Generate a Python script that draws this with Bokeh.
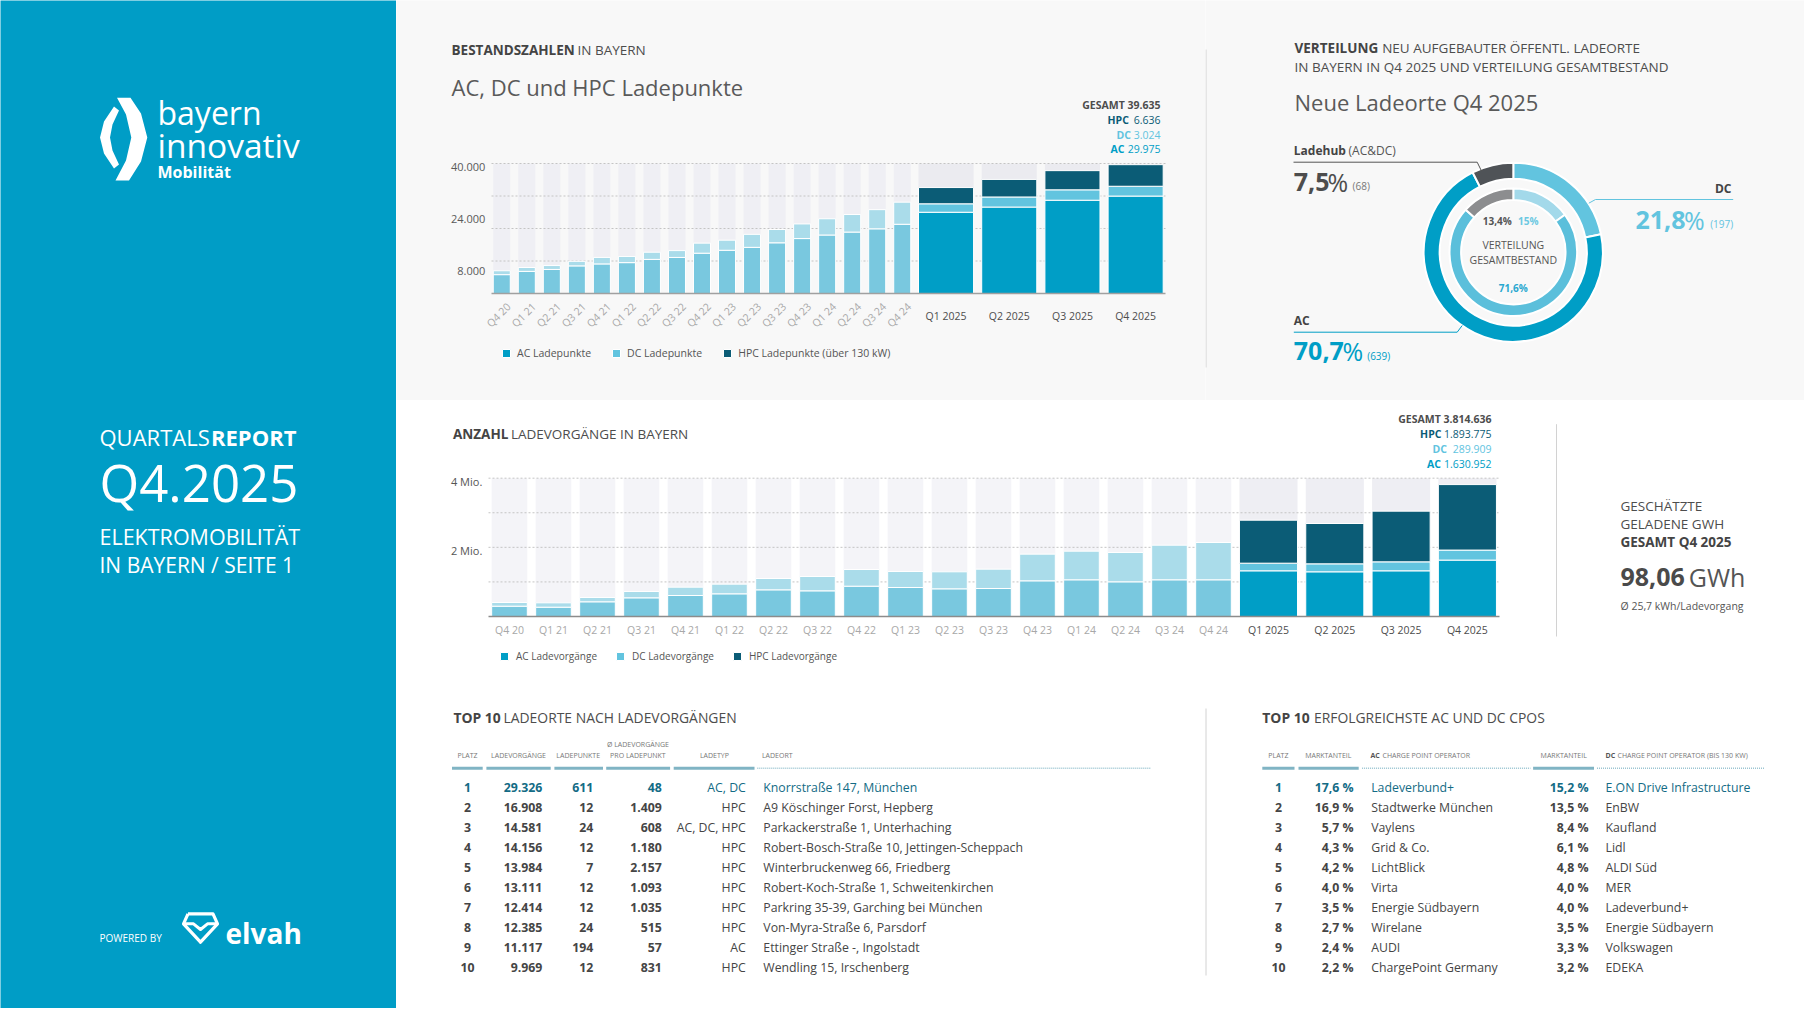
import math
from bokeh.plotting import figure
from bokeh.models import Range1d, Legend, LegendItem
from bokeh.layouts import row, column
from bokeh.core.properties import value
from bokeh.embed import file_html
from bokeh.resources import INLINE

FONT = "Open Sans"

# ------------------------------------------------------------------ data
quarters_hist = ["Q4 20", "Q1 21", "Q2 21", "Q3 21", "Q4 21", "Q1 22", "Q2 22", "Q3 22",
                 "Q4 22", "Q1 23", "Q2 23", "Q3 23", "Q4 23", "Q1 24", "Q2 24", "Q3 24", "Q4 24"]
quarters_new = ["Q1 2025", "Q2 2025", "Q3 2025", "Q4 2025"]

# Ladepunkte (Bestand)
lp_ac_hist = [5800, 6800, 7400, 8500, 9100, 9500, 10500, 11100, 12400, 13300, 14200, 15600,
              16900, 18000, 18900, 19900, 21300]
lp_dc_hist = [1200, 1200, 1200, 1400, 2000, 1900, 2200, 2100, 3100, 3100, 4000, 4100,
              4500, 5000, 5400, 5900, 6800]
lp_ac_new = [25000, 26600, 28700, 29975]
lp_dc_new = [2600, 3100, 3200, 3024]
lp_hpc_new = [5000, 5400, 5900, 6636]
lp_ticks = [8000, 24000, 40000]
lp_grid = [10000, 20000, 30000, 40000]
lp_legend = ["AC Ladepunkte", "DC Ladepunkte", "HPC Ladepunkte (über 130 kW)"]

# Ladevorgaenge
lv_ac_hist = [298000, 269000, 425000, 540000, 607000, 656000, 771000, 742000, 877000, 839000,
              800000, 810000, 1032000, 1061000, 1003000, 1061000, 1061000]
lv_dc_hist = [107000, 126000, 125000, 183000, 241000, 279000, 328000, 415000, 482000, 462000,
              492000, 559000, 771000, 828000, 848000, 1001000, 1079000]
lv_ac_new = [1321000, 1292000, 1321000, 1630952]
lv_dc_new = [221000, 231000, 260000, 289909]
lv_hpc_new = [1243000, 1166000, 1465000, 1893775]
lv_ticks = [2000000, 4000000]
lv_tick_labels = ["2 Mio.", "4 Mio."]
lv_grid = [1000000, 2000000, 3000000, 4000000]
lv_legend = ["AC Ladevorgänge", "DC Ladevorgänge", "HPC Ladevorgänge"]

# Donut: neue Ladeorte Q4 2025 (outer) and Gesamtbestand (inner), clockwise from top
neu_share = [21.8, 70.7, 7.5]      # DC, AC, Ladehub
neu_count = [197, 639, 68]
bestand_share = [15.0, 71.6, 13.4]  # DC, AC, Ladehub

gwh_total = 98.06
kwh_per_session = 25.7

top_platz = list(range(1, 11))
top_vorgaenge = [29326, 16908, 14581, 14156, 13984, 13111, 12414, 12385, 11117, 9969]
top_punkte = [611, 12, 24, 12, 7, 12, 12, 24, 194, 12]
top_pro_punkt = [48, 1409, 608, 1180, 2157, 1093, 1035, 515, 57, 831]
top_typ = ["AC, DC", "HPC", "AC, DC, HPC", "HPC", "HPC", "HPC", "HPC", "HPC", "AC", "HPC"]
top_ort = ["Knorrstraße 147, München", "A9 Köschinger Forst, Hepberg",
           "Parkackerstraße 1, Unterhaching", "Robert-Bosch-Straße 10, Jettingen-Scheppach",
           "Winterbruckenweg 66, Friedberg", "Robert-Koch-Straße 1, Schweitenkirchen",
           "Parkring 35-39, Garching bei München", "Von-Myra-Straße 6, Parsdorf",
           "Ettinger Straße -, Ingolstadt", "Wendling 15, Irschenberg"]

cpo_ac_share = [17.6, 16.9, 5.7, 4.3, 4.2, 4.0, 3.5, 2.7, 2.4, 2.2]
cpo_ac_name = ["Ladeverbund+", "Stadtwerke München", "Vaylens", "Grid & Co.", "LichtBlick",
               "Virta", "Energie Südbayern", "Wirelane", "AUDI", "ChargePoint Germany"]
cpo_dc_share = [15.2, 13.5, 8.4, 6.1, 4.8, 4.0, 4.0, 3.5, 3.3, 3.2]
cpo_dc_name = ["E.ON Drive Infrastructure", "EnBW", "Kaufland", "Lidl", "ALDI Süd", "MER",
               "Ladeverbund+", "Energie Südbayern", "Volkswagen", "EDEKA"]

# ------------------------------------------------------------------ styles
BG_TOP = "#f8f8f8"
BLUE_PANEL = "#009dc6"
C_AC, C_DC, C_HPC = "#009ec6", "#62c4df", "#0b5c76"
C_AC_OLD, C_DC_OLD = "#79c8df", "#aadcea"
C_TEAL = "#136b85"
C_ROW = "#454545"
C_GRID = "#c4c4c4"
BASE_K = 0.0   # rendered cap centre lands on the given y with this offset


def de(n):
    return f"{n:,}".replace(",", ".")


def pct1(v):
    return f"{v:.1f}".replace(".", ",")


def pctg(v):
    return f"{v:g}".replace(".", ",") + "%"


def ID(v):
    return v


def make_fig(x0, x1, y0, y1, fx, fy, bg):
    """Figure whose frame is the whole canvas; fx/fy map page pixels to data."""
    p = figure(width=round(x1 - x0), height=round(y1 - y0),
               x_range=Range1d(fx(x0), fx(x1)), y_range=Range1d(fy(y1), fy(y0)),
               toolbar_location=None, output_backend="svg", min_border=0,
               x_axis_location=None, y_axis_location=None,
               background_fill_color=bg, border_fill_color=bg, outline_line_color=None)
    p.grid.visible = False
    return p


def put(p, fx, fy, xs, ys, texts, size, color, bold=False, align="left", xdata=False,
        angle=0.0, baseline=None):
    if not isinstance(texts, list):
        xs, ys, texts = [xs], [ys], [texts]
    xd = list(xs) if xdata else [fx(x) for x in xs]
    if baseline is None:
        yd = [fy(y + BASE_K * size) for y in ys]
        bl = "alphabetic"
    else:
        yd = [fy(y) for y in ys]
        bl = baseline
    p.text(x=xd, y=yd, text=texts, angle=angle, text_font=value(FONT),
           text_font_size=value(f"{size}px"), text_font_style="bold" if bold else "normal",
           text_color=color, text_align=align, text_baseline=bl)


def legend_for(p, renderers, labels, loc, size, standoff, spacing):
    leg = Legend(items=[LegendItem(label=l, renderers=[r]) for l, r in zip(labels, renderers)],
                 orientation="horizontal", location=loc, glyph_width=10, glyph_height=10,
                 label_height=10, label_standoff=standoff, spacing=spacing, padding=0, margin=0,
                 border_line_color=None, background_fill_alpha=0, label_text_font=FONT,
                 label_text_font_size=size, label_text_color="#555555")
    p.add_layout(leg)


def stacked(p, xs, width, layers, colors):
    rs = []
    bottom = [0] * len(xs)
    for vals, col in zip(layers, colors):
        top = [b + v for b, v in zip(bottom, vals)]
        rs.append(p.vbar(x=xs, width=width, bottom=bottom, top=top, fill_color=col,
                         line_color="white", line_width=1))
        bottom = top
    return rs


# ================================================================== left panel
pl = make_fig(0, 396, 0, 1008, ID, ID, BLUE_PANEL)
# bayern innovativ mark: left chevron-lens + broad right crescent
pl.patch([113.5, 118.5, 112, 109.5, 112, 118.5, 113.5, 103.5, 99.5, 103.5],
         [106, 110, 124, 137, 150, 164, 168, 153, 137, 121],
         fill_color="white", line_color=None)
pl.patch([116.5, 130, 140.5, 146.8, 140.5, 128.5, 115, 125.5, 130.8, 125.5],
         [97.3, 97.3, 113, 137, 161, 180, 180, 160, 137, 114],
         fill_color="white", line_color=None)
put(pl, ID, ID, 157, 112, "bayern", 32, "white")
put(pl, ID, ID, 157, 144, "innovativ", 33.5, "white")
put(pl, ID, ID, 157, 171.5, "Mobilität", 16, "white", bold=True)
put(pl, ID, ID, 99, 436.6, "QUARTALS", 22, "white")
put(pl, ID, ID, 210.5, 436.6, "REPORT", 22, "white", bold=True)
put(pl, ID, ID, 99, 481.7, "Q4.2025", 51, "white")
put(pl, ID, ID, 99, 535.6, "ELEKTROMOBILITÄT", 21.5, "white")
put(pl, ID, ID, 99, 564.3, "IN BAYERN / SEITE 1", 21, "white")
put(pl, ID, ID, 99, 937.3, "POWERED BY", 10, "white")
# elvah gem mark
pl.line([187.5, 212.5, 217, 200, 183, 187.5], [913.3, 913.3, 923.3, 941.7, 923.3, 913.3],
        line_color="white", line_width=3.2, line_join="round")
pl.line([183.5, 193, 200, 207, 216.5], [923.3, 923.3, 929, 923.3, 923.3],
        line_color="white", line_width=3, line_join="round")
put(pl, ID, ID, 225, 932, "elvah", 28, "white", bold=True)

# ================================================================== top chart (Ladepunkte)
T_L, T_R, T_B = 491, 1165, 293           # plot area (page px)
T_UNIT, T_X0 = 25.03, -0.41
T_VPP = 40000 / 130.0


def tx(px):
    return T_X0 + (px - T_L) / T_UNIT


def ty(py):
    return (T_B - py) * T_VPP


pt = make_fig(396, 1205, 0, 400, tx, ty, BG_TOP)
hx = list(range(len(quarters_hist)))
nx = [len(quarters_hist) + 0.75 + 2.525 * j for j in range(len(quarters_new))]
pt.vbar(x=hx, width=0.68, bottom=0, top=[max(lp_ticks)] * len(hx), fill_color="#efeff4",
        line_color=None, level="image")
pt.vbar(x=nx, width=2.2, bottom=0, top=[max(lp_ticks)] * len(nx), fill_color="#ebebf0",
        line_color=None, level="image")
pt.segment(x0=tx(T_L), x1=tx(T_R), y0=lp_grid, y1=lp_grid, line_color=C_GRID, line_dash="2 2",
           line_width=1, level="underlay")
stacked(pt, hx, 0.68, [lp_ac_hist, lp_dc_hist], [C_AC_OLD, C_DC_OLD])
r_top = stacked(pt, nx, 2.2, [lp_ac_new, lp_dc_new, lp_hpc_new], [C_AC, C_DC, C_HPC])
pt.segment(x0=tx(T_L), x1=tx(T_R), y0=0, y1=0, line_color="#a0a0a0", line_width=1.5)

# axis labels
put(pt, tx, ty, [484.8] * len(lp_ticks), [T_B - v / T_VPP + 3.5 for v in lp_ticks],
    [de(v) for v in lp_ticks], 11, "#5a5a5a", align="right")
put(pt, tx, ty, [x + 0.28 for x in hx], [304.3] * len(hx), quarters_hist, 10.5, "#a8a8a8",
    align="right", xdata=True, angle=math.pi / 4, baseline="middle")
put(pt, tx, ty, nx, [315] * len(nx), quarters_new, 10.5, "#4d4d4d", align="center", xdata=True)

# titles
put(pt, tx, ty, 451, 49, "BESTANDSZAHLEN", 13.5, "#444444", bold=True)
put(pt, tx, ty, 577, 49, "IN BAYERN", 13.5, "#4d4d4d")
put(pt, tx, ty, 451, 86.5, "AC, DC und HPC Ladepunkte", 22, "#5a5a5a")

lp_total = lp_ac_new[-1] + lp_dc_new[-1] + lp_hpc_new[-1]
put(pt, tx, ty, 1160, 104.3, "GESAMT " + de(lp_total), 10.5, "#4d4d4d", bold=True, align="right")
put(pt, tx, ty, 1107, 119.3, "HPC", 10.5, C_HPC, bold=True)
put(pt, tx, ty, 1160, 119.3, de(lp_hpc_new[-1]), 10.5, C_HPC, align="right")
put(pt, tx, ty, 1116, 134.3, "DC", 10.5, C_DC, bold=True)
put(pt, tx, ty, 1160, 134.3, de(lp_dc_new[-1]), 10.5, C_DC, align="right")
put(pt, tx, ty, 1110, 148.3, "AC", 10.5, C_AC, bold=True)
put(pt, tx, ty, 1160, 148.3, de(lp_ac_new[-1]), 10.5, C_AC, align="right")

legend_for(pt, r_top, lp_legend, (105, 40), "10.5px", 6, 20)

# ================================================================== donut panel
pd = make_fig(1205, 1804, 0, 400, ID, ID, BG_TOP)
pd.line([1205.5, 1205.5], [49, 367], line_color="#d2d2d2", line_width=1)


def ring_angles(shares):
    tot = float(sum(shares))
    s_, e_, c = [], [], 0.0
    for s in shares:
        f0 = c / tot
        c += s
        f1 = c / tot
        s_.append(math.pi / 2 - 2 * math.pi * f1)
        e_.append(math.pi / 2 - 2 * math.pi * f0)
    return s_, e_


CX, CY = 1512.8, 251.7
so, eo = ring_angles(neu_share)
pd.annular_wedge(x=CX, y=CY, inner_radius=73.5, outer_radius=89.5, start_angle=so, end_angle=eo,
                 fill_color=[C_DC, C_AC, "#4f5357"], line_color="white", line_width=2)
si, ei = ring_angles(bestand_share)
pd.annular_wedge(x=CX, y=CY, inner_radius=52.2, outer_radius=63.8, start_angle=si, end_angle=ei,
                 fill_color=["#a3d9ea", "#5bbfdb", "#8c8d8f"], line_color="white", line_width=2)

put(pd, ID, ID, 1294, 47.7, "VERTEILUNG", 13.5, "#444444", bold=True)
put(pd, ID, ID, 1381.7, 47.7, "NEU AUFGEBAUTER ÖFFENTL. LADEORTE", 13.5, "#4d4d4d")
put(pd, ID, ID, 1294, 66, "IN BAYERN IN Q4 2025 UND VERTEILUNG GESAMTBESTAND", 13.5, "#4d4d4d")
put(pd, ID, ID, 1294, 101.7, "Neue Ladeorte Q4 2025", 22, "#5a5a5a")

# centre of the donut
put(pd, ID, ID, 1496.7, 220.7, pctg(bestand_share[2]), 10, "#555555", bold=True, align="center")
put(pd, ID, ID, 1527.7, 220.7, pctg(bestand_share[0]), 10, "#6cc8e2", bold=True, align="center")
put(pd, ID, ID, 1512.8, 244, "VERTEILUNG", 10.5, "#555555", align="center")
put(pd, ID, ID, 1512.8, 259, "GESAMTBESTAND", 10.5, "#555555", align="center")
put(pd, ID, ID, 1512.8, 287.3, pctg(bestand_share[1]), 10, "#2aa8d0", bold=True, align="center")

# Ladehub
pd.line([1293, 1476.7, 1481], [161.7, 161.7, 170.5], line_color="#555555", line_width=1)
put(pd, ID, ID, 1293.3, 150, "Ladehub", 12, "#444444", bold=True)
put(pd, ID, ID, 1348, 150, "(AC&DC)", 12, "#555555")
put(pd, ID, ID, 1293.3, 181.7, pct1(neu_share[2]), 25, "#4d4d4d", bold=True)
put(pd, ID, ID, 1327, 181.7, "%", 25, "#4d4d4d")
put(pd, ID, ID, 1352, 185.7, f"({neu_count[2]})", 10, "#777777")

# DC
pd.line([1588.3, 1595, 1732.7], [202.7, 199, 199], line_color=C_DC, line_width=1)
put(pd, ID, ID, 1731, 188.3, "DC", 12, "#444444", bold=True, align="right")
put(pd, ID, ID, 1635, 219.3, pct1(neu_share[0]), 25, C_DC, bold=True)
put(pd, ID, ID, 1683.5, 219.3, "%", 25, C_DC)
put(pd, ID, ID, 1732.7, 223, f"({neu_count[0]})", 10, C_DC, align="right")

# AC
pd.line([1293.3, 1456.7, 1461.7], [331.7, 331.7, 325], line_color=C_AC, line_width=1)
put(pd, ID, ID, 1293.3, 320, "AC", 12, "#444444", bold=True)
put(pd, ID, ID, 1293.3, 350.7, pct1(neu_share[1]), 25, C_AC, bold=True)
put(pd, ID, ID, 1342, 350.7, "%", 25, C_AC)
put(pd, ID, ID, 1366.7, 355, f"({neu_count[1]})", 10, C_AC)

# ================================================================== bottom chart (Ladevorgaenge)
B_L, B_R, B_B = 488, 1499, 616
B_UNIT, B_X0 = 44.0, -0.477
B_VPP = 1e6 / 34.58


def bx(px):
    return B_X0 + (px - B_L) / B_UNIT


def by(py):
    return (B_B - py) * B_VPP


pb = make_fig(396, 1555, 400, 690, bx, by, "white")
bhx = list(range(len(quarters_hist)))
bnx = [len(quarters_hist) + 0.25 + 1.507 * j for j in range(len(quarters_new))]
pb.vbar(x=bhx, width=0.81, bottom=0, top=[max(lv_ticks)] * len(bhx), fill_color="#f4f4f8",
        line_color=None, level="image")
pb.vbar(x=bnx, width=1.32, bottom=0, top=[max(lv_ticks)] * len(bnx), fill_color="#eeeef3",
        line_color=None, level="image")
pb.segment(x0=bx(B_L), x1=bx(B_R), y0=lv_grid, y1=lv_grid, line_color=C_GRID, line_dash="2 2",
           line_width=1, level="underlay")
stacked(pb, bhx, 0.81, [lv_ac_hist, lv_dc_hist], [C_AC_OLD, C_DC_OLD])
r_bot = stacked(pb, bnx, 1.32, [lv_ac_new, lv_dc_new, lv_hpc_new], [C_AC, C_DC, C_HPC])
pb.segment(x0=bx(B_L), x1=bx(B_R), y0=0, y1=0, line_color="#8c8c8c", line_width=1.5)

put(pb, bx, by, [481.8] * len(lv_ticks), [B_B - v / B_VPP + 3 for v in lv_ticks],
    lv_tick_labels, 11, "#555555", align="right")
put(pb, bx, by, bhx, [629.3] * len(bhx), quarters_hist, 10.5, "#a8a8a8", align="center", xdata=True)
put(pb, bx, by, bnx, [629.3] * len(bnx), quarters_new, 10.5, "#4d4d4d", align="center", xdata=True)

put(pb, bx, by, 452.5, 433.3, "ANZAHL", 13.5, "#444444", bold=True)
put(pb, bx, by, 510.4, 433.3, "LADEVORGÄNGE IN BAYERN", 13.5, "#4d4d4d")

lv_total = lv_ac_new[-1] + lv_dc_new[-1] + lv_hpc_new[-1]
put(pb, bx, by, 1491, 418.3, "GESAMT " + de(lv_total), 10.5, "#4d4d4d", bold=True, align="right")
put(pb, bx, by, 1419.6, 433.3, "HPC", 10.5, C_HPC, bold=True)
put(pb, bx, by, 1491, 433.3, de(lv_hpc_new[-1]), 10.5, C_HPC, align="right")
put(pb, bx, by, 1432, 448.3, "DC", 10.5, C_DC, bold=True)
put(pb, bx, by, 1491, 448.3, de(lv_dc_new[-1]), 10.5, C_DC, align="right")
put(pb, bx, by, 1426.4, 463.3, "AC", 10.5, C_AC, bold=True)
put(pb, bx, by, 1491, 463.3, de(lv_ac_new[-1]), 10.5, C_AC, align="right")

legend_for(pb, r_bot, lv_legend, (103, 27), "10px", 7, 18)

# ================================================================== GWh panel
pg = make_fig(1555, 1804, 400, 690, ID, ID, "white")
pg.line([1556, 1556], [423.7, 636], line_color="#d2d2d2", line_width=1)
put(pg, ID, ID, 1620, 505, "GESCHÄTZTE", 13.5, "#4d4d4d")
put(pg, ID, ID, 1620, 523.3, "GELADENE GWH", 13.5, "#4d4d4d")
put(pg, ID, ID, 1620, 541.7, "GESAMT Q4 2025", 13.5, "#444444", bold=True)
put(pg, ID, ID, 1620, 576.7, f"{gwh_total:.2f}".replace(".", ","), 25, "#4a4a4a", bold=True)
put(pg, ID, ID, 1688.3, 576.7, "GWh", 25, "#555555")
put(pg, ID, ID, 1620, 605, "Ø " + f"{kwh_per_session:.1f}".replace(".", ",") + " kWh/Ladevorgang",
    10.5, "#555555")

# ================================================================== tables
ptab = make_fig(396, 1804, 690, 1008, ID, ID, "white")
ptab.line([1205.5, 1205.5], [708, 975], line_color="#d2d2d2", line_width=1)

put(ptab, ID, ID, 452.9, 716.7, "TOP 10", 13.9, "#444444", bold=True)
put(ptab, ID, ID, 503, 716.7, "LADEORTE NACH LADEVORGÄNGEN", 13.9, "#4d4d4d")
put(ptab, ID, ID, 1261.8, 716.7, "TOP 10", 13.9, "#444444", bold=True)
put(ptab, ID, ID, 1313.5, 716.7, "ERFOLGREICHSTE AC UND DC CPOS", 13.9, "#4d4d4d")

HC = "#777777"
put(ptab, ID, ID, [467, 518, 577.7, 713.9], [755] * 4,
    ["PLATZ", "LADEVORGÄNGE", "LADEPUNKTE", "LADETYP"], 7, HC, align="center")
put(ptab, ID, ID, [637.4, 637.4], [744.3, 755], ["Ø LADEVORGÄNGE", "PRO LADEPUNKT"], 7, HC,
    align="center")
put(ptab, ID, ID, 761.4, 755, "LADEORT", 7, HC)
put(ptab, ID, ID, [1277.9, 1327.8, 1563.2], [755] * 3, ["PLATZ", "MARKTANTEIL", "MARKTANTEIL"],
    7, HC, align="center")
put(ptab, ID, ID, [1370, 1605], [755, 755], ["AC", "DC"], 7, "#555555", bold=True)
put(ptab, ID, ID, [1382, 1617], [755, 755],
    ["CHARGE POINT OPERATOR", "CHARGE POINT OPERATOR (BIS 130 KW)"], 7, HC)

U_Y = 767.7
for a, b in [(451.5, 482.2), (485.9, 550.2), (553.9, 602.5), (605.7, 669.6), (673.2, 754),
             (1261.8, 1294), (1298, 1358.2), (1532.6, 1593.5)]:
    ptab.line([a, b], [U_Y, U_Y], line_color="#80b4c4", line_width=3)
for a, b in [(756.8, 1150.7), (1361.6, 1530), (1596.5, 1764.5)]:
    ptab.line([a, b], [U_Y, U_Y], line_color="#9cc5d2", line_width=1.5, line_dash="1 1")

rows_y = [787 + 20 * i for i in range(len(top_platz))]
row_cols = [C_TEAL] + [C_ROW] * (len(top_platz) - 1)
n = len(rows_y)
FS = 12.3
put(ptab, ID, ID, [467] * n, rows_y, [str(v) for v in top_platz], FS, row_cols, bold=True,
    align="center")
put(ptab, ID, ID, [541.9] * n, rows_y, [de(v) for v in top_vorgaenge], FS, row_cols, bold=True,
    align="right")
put(ptab, ID, ID, [592.9] * n, rows_y, [de(v) for v in top_punkte], FS, row_cols, bold=True,
    align="right")
put(ptab, ID, ID, [661.3] * n, rows_y, [de(v) for v in top_pro_punkt], FS, row_cols, bold=True,
    align="right")
put(ptab, ID, ID, [745.3] * n, rows_y, top_typ, FS, row_cols, align="right")
put(ptab, ID, ID, [762.8] * n, rows_y, top_ort, FS, row_cols)

put(ptab, ID, ID, [1278] * n, rows_y, [str(v) for v in top_platz], FS, row_cols, bold=True,
    align="center")
put(ptab, ID, ID, [1353.1] * n, rows_y, [pct1(v) + " %" for v in cpo_ac_share], FS, row_cols,
    bold=True, align="right")
put(ptab, ID, ID, [1370.7] * n, rows_y, cpo_ac_name, FS, row_cols)
put(ptab, ID, ID, [1588] * n, rows_y, [pct1(v) + " %" for v in cpo_dc_share], FS, row_cols,
    bold=True, align="right")
put(ptab, ID, ID, [1605] * n, rows_y, cpo_dc_name, FS, row_cols)

# ================================================================== layout
layout = row(pl, column(row(pt, pd), row(pb, pg), ptab))
open("out.html", "w").write(file_html(layout, INLINE))
